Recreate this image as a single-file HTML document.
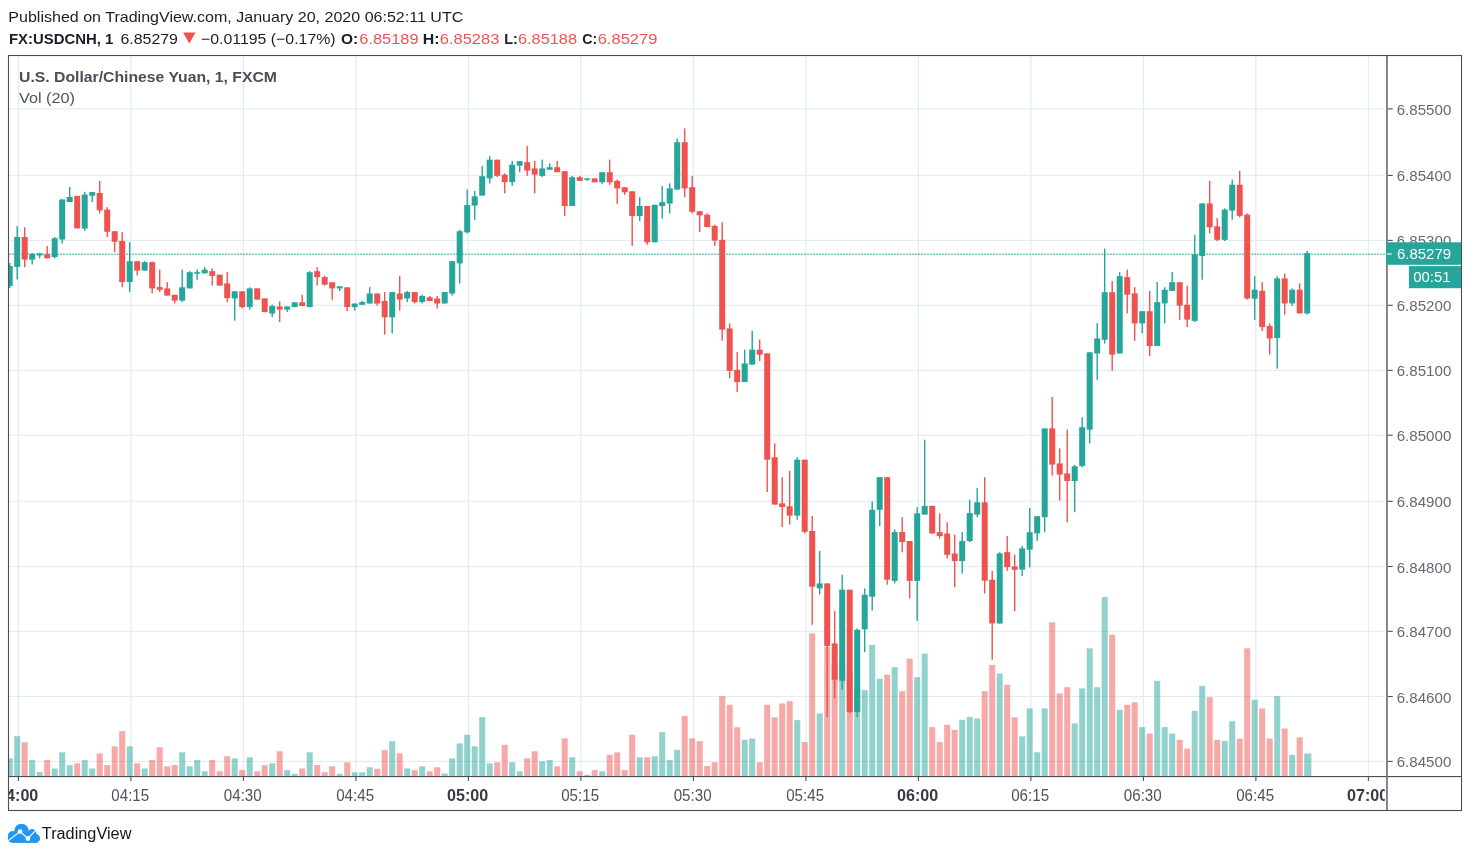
<!DOCTYPE html>
<html><head><meta charset="utf-8"><title>USDCNH chart</title>
<style>html,body{margin:0;padding:0;background:#fff}svg{display:block}text{font-family:"Liberation Sans",sans-serif}</style></head><body>
<svg width="1470" height="857" viewBox="0 0 1470 857">
<rect x="0" y="0" width="1470" height="857" fill="#fff"/>
<defs><clipPath id="pane"><rect x="9" y="56" width="1377" height="720.5"/></clipPath><clipPath id="tax"><rect x="9" y="777" width="1375.8" height="33"/></clipPath></defs>
<g fill="#e1ecf2">
<rect x="17.80" y="56" width="1.2" height="720"/>
<rect x="130.30" y="56" width="1.2" height="720"/>
<rect x="242.80" y="56" width="1.2" height="720"/>
<rect x="355.30" y="56" width="1.2" height="720"/>
<rect x="467.80" y="56" width="1.2" height="720"/>
<rect x="580.30" y="56" width="1.2" height="720"/>
<rect x="692.80" y="56" width="1.2" height="720"/>
<rect x="805.30" y="56" width="1.2" height="720"/>
<rect x="917.80" y="56" width="1.2" height="720"/>
<rect x="1030.30" y="56" width="1.2" height="720"/>
<rect x="1142.80" y="56" width="1.2" height="720"/>
<rect x="1255.30" y="56" width="1.2" height="720"/>
<rect x="1367.80" y="56" width="1.2" height="720"/>
<rect x="9" y="108.35" width="1376" height="1.1"/>
<rect x="9" y="174.85" width="1376" height="1.1"/>
<rect x="9" y="239.85" width="1376" height="1.1"/>
<rect x="9" y="304.75" width="1376" height="1.1"/>
<rect x="9" y="369.85" width="1376" height="1.1"/>
<rect x="9" y="434.65" width="1376" height="1.1"/>
<rect x="9" y="500.75" width="1376" height="1.1"/>
<rect x="9" y="565.95" width="1376" height="1.1"/>
<rect x="9" y="630.75" width="1376" height="1.1"/>
<rect x="9" y="695.95" width="1376" height="1.1"/>
<rect x="9" y="760.85" width="1376" height="1.1"/>
</g>
<g clip-path="url(#pane)" fill-opacity="0.5">
<rect x="6.70" y="758.40" width="6.00" height="17.80" fill="#26a69a"/>
<rect x="14.20" y="736.20" width="6.00" height="40.00" fill="#26a69a"/>
<rect x="21.70" y="742.20" width="6.00" height="34.00" fill="#ef5350"/>
<rect x="29.20" y="760.10" width="6.00" height="16.10" fill="#26a69a"/>
<rect x="36.70" y="772.10" width="6.00" height="4.10" fill="#26a69a"/>
<rect x="44.20" y="760.10" width="6.00" height="16.10" fill="#ef5350"/>
<rect x="51.70" y="768.50" width="6.00" height="7.70" fill="#26a69a"/>
<rect x="59.20" y="752.30" width="6.00" height="23.90" fill="#26a69a"/>
<rect x="66.70" y="765.10" width="6.00" height="11.10" fill="#26a69a"/>
<rect x="74.20" y="763.40" width="6.00" height="12.80" fill="#ef5350"/>
<rect x="81.70" y="760.10" width="6.00" height="16.10" fill="#26a69a"/>
<rect x="89.20" y="768.50" width="6.00" height="7.70" fill="#26a69a"/>
<rect x="96.70" y="753.40" width="6.00" height="22.80" fill="#ef5350"/>
<rect x="104.20" y="765.10" width="6.00" height="11.10" fill="#ef5350"/>
<rect x="111.70" y="746.30" width="6.00" height="29.90" fill="#ef5350"/>
<rect x="119.20" y="731.20" width="6.00" height="45.00" fill="#ef5350"/>
<rect x="126.70" y="746.30" width="6.00" height="29.90" fill="#26a69a"/>
<rect x="134.20" y="763.40" width="6.00" height="12.80" fill="#ef5350"/>
<rect x="141.70" y="768.50" width="6.00" height="7.70" fill="#26a69a"/>
<rect x="149.20" y="760.10" width="6.00" height="16.10" fill="#ef5350"/>
<rect x="156.70" y="747.30" width="6.00" height="28.90" fill="#ef5350"/>
<rect x="164.20" y="766.30" width="6.00" height="9.90" fill="#ef5350"/>
<rect x="171.70" y="765.10" width="6.00" height="11.10" fill="#ef5350"/>
<rect x="179.20" y="752.30" width="6.00" height="23.90" fill="#26a69a"/>
<rect x="186.70" y="766.30" width="6.00" height="9.90" fill="#26a69a"/>
<rect x="194.20" y="760.10" width="6.00" height="16.10" fill="#26a69a"/>
<rect x="201.70" y="771.30" width="6.00" height="4.90" fill="#26a69a"/>
<rect x="209.20" y="760.10" width="6.00" height="16.10" fill="#ef5350"/>
<rect x="216.70" y="771.30" width="6.00" height="4.90" fill="#ef5350"/>
<rect x="224.20" y="756.30" width="6.00" height="19.90" fill="#ef5350"/>
<rect x="231.70" y="758.40" width="6.00" height="17.80" fill="#26a69a"/>
<rect x="239.20" y="770.10" width="6.00" height="6.10" fill="#ef5350"/>
<rect x="246.70" y="757.30" width="6.00" height="18.90" fill="#26a69a"/>
<rect x="254.20" y="771.30" width="6.00" height="4.90" fill="#ef5350"/>
<rect x="261.70" y="765.10" width="6.00" height="11.10" fill="#ef5350"/>
<rect x="269.20" y="763.40" width="6.00" height="12.80" fill="#26a69a"/>
<rect x="276.70" y="751.30" width="6.00" height="24.90" fill="#ef5350"/>
<rect x="284.20" y="770.10" width="6.00" height="6.10" fill="#26a69a"/>
<rect x="291.70" y="773.80" width="6.00" height="2.40" fill="#26a69a"/>
<rect x="299.20" y="768.50" width="6.00" height="7.70" fill="#ef5350"/>
<rect x="306.70" y="752.30" width="6.00" height="23.90" fill="#26a69a"/>
<rect x="314.20" y="765.10" width="6.00" height="11.10" fill="#ef5350"/>
<rect x="321.70" y="772.30" width="6.00" height="3.90" fill="#ef5350"/>
<rect x="329.20" y="766.30" width="6.00" height="9.90" fill="#ef5350"/>
<rect x="336.70" y="773.80" width="6.00" height="2.40" fill="#26a69a"/>
<rect x="344.20" y="762.30" width="6.00" height="13.90" fill="#ef5350"/>
<rect x="351.70" y="772.30" width="6.00" height="3.90" fill="#26a69a"/>
<rect x="359.20" y="772.30" width="6.00" height="3.90" fill="#26a69a"/>
<rect x="366.70" y="767.30" width="6.00" height="8.90" fill="#26a69a"/>
<rect x="374.20" y="768.80" width="6.00" height="7.40" fill="#ef5350"/>
<rect x="381.70" y="750.10" width="6.00" height="26.10" fill="#ef5350"/>
<rect x="389.20" y="741.20" width="6.00" height="35.00" fill="#26a69a"/>
<rect x="396.70" y="753.40" width="6.00" height="22.80" fill="#ef5350"/>
<rect x="404.20" y="768.50" width="6.00" height="7.70" fill="#26a69a"/>
<rect x="411.70" y="770.10" width="6.00" height="6.10" fill="#ef5350"/>
<rect x="419.20" y="766.30" width="6.00" height="9.90" fill="#26a69a"/>
<rect x="426.70" y="771.30" width="6.00" height="4.90" fill="#ef5350"/>
<rect x="434.20" y="767.30" width="6.00" height="8.90" fill="#ef5350"/>
<rect x="441.70" y="773.50" width="6.00" height="2.70" fill="#26a69a"/>
<rect x="449.20" y="758.40" width="6.00" height="17.80" fill="#26a69a"/>
<rect x="456.70" y="743.40" width="6.00" height="32.80" fill="#26a69a"/>
<rect x="464.20" y="734.70" width="6.00" height="41.50" fill="#26a69a"/>
<rect x="471.70" y="746.30" width="6.00" height="29.90" fill="#26a69a"/>
<rect x="479.20" y="717.20" width="6.00" height="59.00" fill="#26a69a"/>
<rect x="486.70" y="763.40" width="6.00" height="12.80" fill="#26a69a"/>
<rect x="494.20" y="762.30" width="6.00" height="13.90" fill="#ef5350"/>
<rect x="501.70" y="744.80" width="6.00" height="31.40" fill="#ef5350"/>
<rect x="509.20" y="762.30" width="6.00" height="13.90" fill="#26a69a"/>
<rect x="516.70" y="771.30" width="6.00" height="4.90" fill="#26a69a"/>
<rect x="524.20" y="758.40" width="6.00" height="17.80" fill="#ef5350"/>
<rect x="531.70" y="751.30" width="6.00" height="24.90" fill="#ef5350"/>
<rect x="539.20" y="761.30" width="6.00" height="14.90" fill="#26a69a"/>
<rect x="546.70" y="760.10" width="6.00" height="16.10" fill="#26a69a"/>
<rect x="554.20" y="766.30" width="6.00" height="9.90" fill="#ef5350"/>
<rect x="561.70" y="738.40" width="6.00" height="37.80" fill="#ef5350"/>
<rect x="569.20" y="757.30" width="6.00" height="18.90" fill="#26a69a"/>
<rect x="576.70" y="771.30" width="6.00" height="4.90" fill="#ef5350"/>
<rect x="584.20" y="774.80" width="6.00" height="1.40" fill="#26a69a"/>
<rect x="591.70" y="770.10" width="6.00" height="6.10" fill="#ef5350"/>
<rect x="599.20" y="771.30" width="6.00" height="4.90" fill="#26a69a"/>
<rect x="606.70" y="754.80" width="6.00" height="21.40" fill="#ef5350"/>
<rect x="614.20" y="752.30" width="6.00" height="23.90" fill="#ef5350"/>
<rect x="621.70" y="770.10" width="6.00" height="6.10" fill="#ef5350"/>
<rect x="629.20" y="734.70" width="6.00" height="41.50" fill="#ef5350"/>
<rect x="636.70" y="757.30" width="6.00" height="18.90" fill="#26a69a"/>
<rect x="644.20" y="757.30" width="6.00" height="18.90" fill="#ef5350"/>
<rect x="651.70" y="756.30" width="6.00" height="19.90" fill="#26a69a"/>
<rect x="659.20" y="732.20" width="6.00" height="44.00" fill="#26a69a"/>
<rect x="666.70" y="760.10" width="6.00" height="16.10" fill="#26a69a"/>
<rect x="674.20" y="749.80" width="6.00" height="26.40" fill="#26a69a"/>
<rect x="681.70" y="715.90" width="6.00" height="60.30" fill="#ef5350"/>
<rect x="689.20" y="738.40" width="6.00" height="37.80" fill="#ef5350"/>
<rect x="696.70" y="741.20" width="6.00" height="35.00" fill="#ef5350"/>
<rect x="704.20" y="766.00" width="6.00" height="10.20" fill="#ef5350"/>
<rect x="711.70" y="762.20" width="6.00" height="14.00" fill="#ef5350"/>
<rect x="719.20" y="696.20" width="6.00" height="80.00" fill="#ef5350"/>
<rect x="726.70" y="704.80" width="6.00" height="71.40" fill="#ef5350"/>
<rect x="734.20" y="727.30" width="6.00" height="48.90" fill="#ef5350"/>
<rect x="741.70" y="739.80" width="6.00" height="36.40" fill="#26a69a"/>
<rect x="749.20" y="738.50" width="6.00" height="37.70" fill="#26a69a"/>
<rect x="756.70" y="762.30" width="6.00" height="13.90" fill="#ef5350"/>
<rect x="764.20" y="704.80" width="6.00" height="71.40" fill="#ef5350"/>
<rect x="771.70" y="717.30" width="6.00" height="58.90" fill="#ef5350"/>
<rect x="779.20" y="703.40" width="6.00" height="72.80" fill="#ef5350"/>
<rect x="786.70" y="701.20" width="6.00" height="75.00" fill="#ef5350"/>
<rect x="794.20" y="720.10" width="6.00" height="56.10" fill="#26a69a"/>
<rect x="801.70" y="742.10" width="6.00" height="34.10" fill="#ef5350"/>
<rect x="809.20" y="633.40" width="6.00" height="142.80" fill="#ef5350"/>
<rect x="816.70" y="713.40" width="6.00" height="62.80" fill="#26a69a"/>
<rect x="824.20" y="646.80" width="6.00" height="129.40" fill="#ef5350"/>
<rect x="831.70" y="665.00" width="6.00" height="111.20" fill="#ef5350"/>
<rect x="839.20" y="660.00" width="6.00" height="116.20" fill="#26a69a"/>
<rect x="846.70" y="672.00" width="6.00" height="104.20" fill="#ef5350"/>
<rect x="854.20" y="690.00" width="6.00" height="86.20" fill="#26a69a"/>
<rect x="861.70" y="690.10" width="6.00" height="86.10" fill="#26a69a"/>
<rect x="869.20" y="645.00" width="6.00" height="131.20" fill="#26a69a"/>
<rect x="876.70" y="678.70" width="6.00" height="97.50" fill="#26a69a"/>
<rect x="884.20" y="674.70" width="6.00" height="101.50" fill="#ef5350"/>
<rect x="891.70" y="667.20" width="6.00" height="109.00" fill="#26a69a"/>
<rect x="899.20" y="691.20" width="6.00" height="85.00" fill="#ef5350"/>
<rect x="906.70" y="658.70" width="6.00" height="117.50" fill="#ef5350"/>
<rect x="914.20" y="677.20" width="6.00" height="99.00" fill="#26a69a"/>
<rect x="921.70" y="653.70" width="6.00" height="122.50" fill="#26a69a"/>
<rect x="929.20" y="727.10" width="6.00" height="49.10" fill="#ef5350"/>
<rect x="936.70" y="742.10" width="6.00" height="34.10" fill="#ef5350"/>
<rect x="944.20" y="724.80" width="6.00" height="51.40" fill="#ef5350"/>
<rect x="951.70" y="729.80" width="6.00" height="46.40" fill="#ef5350"/>
<rect x="959.20" y="719.80" width="6.00" height="56.40" fill="#26a69a"/>
<rect x="966.70" y="717.10" width="6.00" height="59.10" fill="#26a69a"/>
<rect x="974.20" y="718.40" width="6.00" height="57.80" fill="#26a69a"/>
<rect x="981.70" y="691.20" width="6.00" height="85.00" fill="#ef5350"/>
<rect x="989.20" y="665.00" width="6.00" height="111.20" fill="#ef5350"/>
<rect x="996.70" y="673.50" width="6.00" height="102.70" fill="#26a69a"/>
<rect x="1004.20" y="684.70" width="6.00" height="91.50" fill="#ef5350"/>
<rect x="1011.70" y="717.30" width="6.00" height="58.90" fill="#ef5350"/>
<rect x="1019.20" y="736.30" width="6.00" height="39.90" fill="#26a69a"/>
<rect x="1026.70" y="708.40" width="6.00" height="67.80" fill="#26a69a"/>
<rect x="1034.20" y="752.30" width="6.00" height="23.90" fill="#26a69a"/>
<rect x="1041.70" y="708.40" width="6.00" height="67.80" fill="#26a69a"/>
<rect x="1049.20" y="622.30" width="6.00" height="153.90" fill="#ef5350"/>
<rect x="1056.70" y="693.40" width="6.00" height="82.80" fill="#ef5350"/>
<rect x="1064.20" y="687.20" width="6.00" height="89.00" fill="#ef5350"/>
<rect x="1071.70" y="723.40" width="6.00" height="52.80" fill="#26a69a"/>
<rect x="1079.20" y="688.40" width="6.00" height="87.80" fill="#26a69a"/>
<rect x="1086.70" y="648.30" width="6.00" height="127.90" fill="#26a69a"/>
<rect x="1094.20" y="687.20" width="6.00" height="89.00" fill="#26a69a"/>
<rect x="1101.70" y="597.10" width="6.00" height="179.10" fill="#26a69a"/>
<rect x="1109.20" y="634.80" width="6.00" height="141.40" fill="#ef5350"/>
<rect x="1116.70" y="709.80" width="6.00" height="66.40" fill="#26a69a"/>
<rect x="1124.20" y="704.80" width="6.00" height="71.40" fill="#ef5350"/>
<rect x="1131.70" y="702.30" width="6.00" height="73.90" fill="#ef5350"/>
<rect x="1139.20" y="727.10" width="6.00" height="49.10" fill="#26a69a"/>
<rect x="1146.70" y="733.50" width="6.00" height="42.70" fill="#ef5350"/>
<rect x="1154.20" y="680.90" width="6.00" height="95.30" fill="#26a69a"/>
<rect x="1161.70" y="727.10" width="6.00" height="49.10" fill="#26a69a"/>
<rect x="1169.20" y="733.50" width="6.00" height="42.70" fill="#26a69a"/>
<rect x="1176.70" y="739.80" width="6.00" height="36.40" fill="#ef5350"/>
<rect x="1184.20" y="748.50" width="6.00" height="27.70" fill="#ef5350"/>
<rect x="1191.70" y="710.90" width="6.00" height="65.30" fill="#26a69a"/>
<rect x="1199.20" y="685.90" width="6.00" height="90.30" fill="#26a69a"/>
<rect x="1206.70" y="697.20" width="6.00" height="79.00" fill="#ef5350"/>
<rect x="1214.20" y="739.80" width="6.00" height="36.40" fill="#ef5350"/>
<rect x="1221.70" y="741.00" width="6.00" height="35.20" fill="#26a69a"/>
<rect x="1229.20" y="721.30" width="6.00" height="54.90" fill="#26a69a"/>
<rect x="1236.70" y="738.50" width="6.00" height="37.70" fill="#ef5350"/>
<rect x="1244.20" y="648.30" width="6.00" height="127.90" fill="#ef5350"/>
<rect x="1251.70" y="699.70" width="6.00" height="76.50" fill="#26a69a"/>
<rect x="1259.20" y="708.40" width="6.00" height="67.80" fill="#ef5350"/>
<rect x="1266.70" y="738.50" width="6.00" height="37.70" fill="#ef5350"/>
<rect x="1274.20" y="696.20" width="6.00" height="80.00" fill="#26a69a"/>
<rect x="1281.70" y="728.50" width="6.00" height="47.70" fill="#ef5350"/>
<rect x="1289.20" y="754.80" width="6.00" height="21.40" fill="#26a69a"/>
<rect x="1296.70" y="737.30" width="6.00" height="38.90" fill="#ef5350"/>
<rect x="1304.20" y="753.50" width="7.20" height="22.70" fill="#26a69a"/>
</g>
<line x1="9" y1="254.2" x2="1386" y2="254.2" stroke="#26a69a" stroke-width="1.5" stroke-dasharray="2 1" opacity="0.62"/>
<g clip-path="url(#pane)">
<rect x="9.00" y="263.00" width="1.4" height="25.00" fill="#26a69a"/>
<rect x="6.70" y="266.00" width="6" height="20.00" fill="#26a69a"/>
<rect x="16.50" y="226.10" width="1.4" height="53.40" fill="#26a69a"/>
<rect x="14.20" y="237.00" width="6" height="29.90" fill="#26a69a"/>
<rect x="24.00" y="227.20" width="1.4" height="40.00" fill="#ef5350"/>
<rect x="21.70" y="237.00" width="6" height="22.60" fill="#ef5350"/>
<rect x="31.50" y="253.00" width="1.4" height="11.50" fill="#26a69a"/>
<rect x="29.20" y="253.90" width="6" height="5.70" fill="#26a69a"/>
<rect x="39.00" y="253.00" width="1.4" height="5.30" fill="#26a69a"/>
<rect x="36.70" y="253.40" width="6" height="2.10" fill="#26a69a"/>
<rect x="46.50" y="246.00" width="1.4" height="12.30" fill="#ef5350"/>
<rect x="44.20" y="254.20" width="6" height="4.10" fill="#ef5350"/>
<rect x="54.00" y="237.00" width="1.4" height="21.30" fill="#26a69a"/>
<rect x="51.70" y="238.30" width="6" height="18.70" fill="#26a69a"/>
<rect x="61.50" y="199.00" width="1.4" height="44.60" fill="#26a69a"/>
<rect x="59.20" y="199.50" width="6" height="40.00" fill="#26a69a"/>
<rect x="69.00" y="187.00" width="1.4" height="15.00" fill="#26a69a"/>
<rect x="66.70" y="197.00" width="6" height="5.00" fill="#26a69a"/>
<rect x="76.50" y="195.90" width="1.4" height="32.50" fill="#ef5350"/>
<rect x="74.20" y="195.90" width="6" height="32.50" fill="#ef5350"/>
<rect x="84.00" y="191.80" width="1.4" height="39.00" fill="#26a69a"/>
<rect x="81.70" y="194.60" width="6" height="34.00" fill="#26a69a"/>
<rect x="91.50" y="192.00" width="1.4" height="10.00" fill="#26a69a"/>
<rect x="89.20" y="192.10" width="6" height="3.60" fill="#26a69a"/>
<rect x="99.00" y="181.00" width="1.4" height="32.40" fill="#ef5350"/>
<rect x="96.70" y="193.00" width="6" height="17.40" fill="#ef5350"/>
<rect x="106.50" y="207.20" width="1.4" height="29.80" fill="#ef5350"/>
<rect x="104.20" y="209.60" width="6" height="22.20" fill="#ef5350"/>
<rect x="114.00" y="231.00" width="1.4" height="21.00" fill="#ef5350"/>
<rect x="111.70" y="231.20" width="6" height="10.50" fill="#ef5350"/>
<rect x="121.50" y="232.20" width="1.4" height="54.90" fill="#ef5350"/>
<rect x="119.20" y="240.90" width="6" height="41.20" fill="#ef5350"/>
<rect x="129.00" y="242.20" width="1.4" height="49.90" fill="#26a69a"/>
<rect x="126.70" y="261.20" width="6" height="20.90" fill="#26a69a"/>
<rect x="136.50" y="261.20" width="1.4" height="14.20" fill="#ef5350"/>
<rect x="134.20" y="261.20" width="6" height="9.40" fill="#ef5350"/>
<rect x="144.00" y="261.20" width="1.4" height="9.40" fill="#26a69a"/>
<rect x="141.70" y="262.20" width="6" height="8.40" fill="#26a69a"/>
<rect x="151.50" y="261.40" width="1.4" height="32.00" fill="#ef5350"/>
<rect x="149.20" y="262.20" width="6" height="26.20" fill="#ef5350"/>
<rect x="159.00" y="269.60" width="1.4" height="22.50" fill="#ef5350"/>
<rect x="156.70" y="287.10" width="6" height="2.70" fill="#ef5350"/>
<rect x="166.50" y="282.10" width="1.4" height="13.50" fill="#ef5350"/>
<rect x="164.20" y="288.40" width="6" height="7.20" fill="#ef5350"/>
<rect x="174.00" y="294.80" width="1.4" height="8.70" fill="#ef5350"/>
<rect x="171.70" y="294.80" width="6" height="5.80" fill="#ef5350"/>
<rect x="181.50" y="269.60" width="1.4" height="32.50" fill="#26a69a"/>
<rect x="179.20" y="287.30" width="6" height="13.30" fill="#26a69a"/>
<rect x="189.00" y="271.20" width="1.4" height="17.20" fill="#26a69a"/>
<rect x="186.70" y="272.20" width="6" height="16.20" fill="#26a69a"/>
<rect x="196.50" y="269.60" width="1.4" height="10.20" fill="#26a69a"/>
<rect x="194.20" y="272.20" width="6" height="1.50" fill="#26a69a"/>
<rect x="204.00" y="267.20" width="1.4" height="6.20" fill="#26a69a"/>
<rect x="201.70" y="269.70" width="6" height="3.70" fill="#26a69a"/>
<rect x="211.50" y="268.40" width="1.4" height="17.20" fill="#ef5350"/>
<rect x="209.20" y="271.20" width="6" height="4.70" fill="#ef5350"/>
<rect x="219.00" y="274.70" width="1.4" height="10.90" fill="#ef5350"/>
<rect x="216.70" y="274.70" width="6" height="10.90" fill="#ef5350"/>
<rect x="226.50" y="272.20" width="1.4" height="29.90" fill="#ef5350"/>
<rect x="224.20" y="283.40" width="6" height="14.70" fill="#ef5350"/>
<rect x="234.00" y="291.30" width="1.4" height="29.30" fill="#26a69a"/>
<rect x="231.70" y="291.30" width="6" height="7.10" fill="#26a69a"/>
<rect x="241.50" y="291.30" width="1.4" height="17.20" fill="#ef5350"/>
<rect x="239.20" y="291.30" width="6" height="15.80" fill="#ef5350"/>
<rect x="249.00" y="287.30" width="1.4" height="22.30" fill="#26a69a"/>
<rect x="246.70" y="288.40" width="6" height="18.70" fill="#26a69a"/>
<rect x="256.50" y="288.40" width="1.4" height="11.20" fill="#ef5350"/>
<rect x="254.20" y="288.40" width="6" height="11.20" fill="#ef5350"/>
<rect x="264.00" y="298.40" width="1.4" height="13.70" fill="#ef5350"/>
<rect x="261.70" y="298.40" width="6" height="13.70" fill="#ef5350"/>
<rect x="271.50" y="304.60" width="1.4" height="12.50" fill="#26a69a"/>
<rect x="269.20" y="306.00" width="6" height="7.50" fill="#26a69a"/>
<rect x="279.00" y="301.30" width="1.4" height="20.80" fill="#ef5350"/>
<rect x="276.70" y="306.50" width="6" height="3.10" fill="#ef5350"/>
<rect x="286.50" y="306.50" width="1.4" height="5.60" fill="#26a69a"/>
<rect x="284.20" y="306.50" width="6" height="3.10" fill="#26a69a"/>
<rect x="294.00" y="302.30" width="1.4" height="4.80" fill="#26a69a"/>
<rect x="291.70" y="302.30" width="6" height="4.80" fill="#26a69a"/>
<rect x="301.50" y="294.80" width="1.4" height="11.20" fill="#ef5350"/>
<rect x="299.20" y="302.30" width="6" height="3.70" fill="#ef5350"/>
<rect x="309.00" y="271.20" width="1.4" height="35.90" fill="#26a69a"/>
<rect x="306.70" y="272.20" width="6" height="34.90" fill="#26a69a"/>
<rect x="316.50" y="267.20" width="1.4" height="18.40" fill="#ef5350"/>
<rect x="314.20" y="271.20" width="6" height="5.90" fill="#ef5350"/>
<rect x="324.00" y="275.90" width="1.4" height="9.70" fill="#ef5350"/>
<rect x="321.70" y="277.10" width="6" height="7.50" fill="#ef5350"/>
<rect x="331.50" y="282.30" width="1.4" height="17.50" fill="#ef5350"/>
<rect x="329.20" y="282.30" width="6" height="6.10" fill="#ef5350"/>
<rect x="339.00" y="286.30" width="1.4" height="4.60" fill="#26a69a"/>
<rect x="336.70" y="286.30" width="6" height="2.10" fill="#26a69a"/>
<rect x="346.50" y="287.30" width="1.4" height="23.70" fill="#ef5350"/>
<rect x="344.20" y="287.30" width="6" height="19.80" fill="#ef5350"/>
<rect x="354.00" y="303.50" width="1.4" height="7.10" fill="#26a69a"/>
<rect x="351.70" y="303.50" width="6" height="3.60" fill="#26a69a"/>
<rect x="361.50" y="301.00" width="1.4" height="3.80" fill="#26a69a"/>
<rect x="359.20" y="302.10" width="6" height="2.70" fill="#26a69a"/>
<rect x="369.00" y="287.10" width="1.4" height="16.40" fill="#26a69a"/>
<rect x="366.70" y="293.50" width="6" height="10.00" fill="#26a69a"/>
<rect x="376.50" y="293.50" width="1.4" height="12.10" fill="#ef5350"/>
<rect x="374.20" y="293.50" width="6" height="10.00" fill="#ef5350"/>
<rect x="384.00" y="292.10" width="1.4" height="42.60" fill="#ef5350"/>
<rect x="381.70" y="301.00" width="6" height="16.30" fill="#ef5350"/>
<rect x="391.50" y="292.10" width="1.4" height="41.40" fill="#26a69a"/>
<rect x="389.20" y="292.10" width="6" height="25.20" fill="#26a69a"/>
<rect x="399.00" y="275.90" width="1.4" height="34.70" fill="#ef5350"/>
<rect x="396.70" y="293.50" width="6" height="6.10" fill="#ef5350"/>
<rect x="406.50" y="291.00" width="1.4" height="11.10" fill="#26a69a"/>
<rect x="404.20" y="292.10" width="6" height="6.40" fill="#26a69a"/>
<rect x="414.00" y="292.10" width="1.4" height="11.40" fill="#ef5350"/>
<rect x="411.70" y="292.10" width="6" height="10.00" fill="#ef5350"/>
<rect x="421.50" y="294.60" width="1.4" height="8.90" fill="#26a69a"/>
<rect x="419.20" y="296.00" width="6" height="6.10" fill="#26a69a"/>
<rect x="429.00" y="296.00" width="1.4" height="5.00" fill="#ef5350"/>
<rect x="426.70" y="297.30" width="6" height="3.70" fill="#ef5350"/>
<rect x="436.50" y="296.00" width="1.4" height="12.50" fill="#ef5350"/>
<rect x="434.20" y="298.50" width="6" height="5.00" fill="#ef5350"/>
<rect x="444.00" y="292.10" width="1.4" height="11.40" fill="#26a69a"/>
<rect x="441.70" y="292.10" width="6" height="11.40" fill="#26a69a"/>
<rect x="451.50" y="261.20" width="1.4" height="34.40" fill="#26a69a"/>
<rect x="449.20" y="261.20" width="6" height="32.30" fill="#26a69a"/>
<rect x="459.00" y="229.70" width="1.4" height="53.70" fill="#26a69a"/>
<rect x="456.70" y="231.20" width="6" height="32.20" fill="#26a69a"/>
<rect x="466.50" y="189.60" width="1.4" height="43.90" fill="#26a69a"/>
<rect x="464.20" y="205.10" width="6" height="27.20" fill="#26a69a"/>
<rect x="474.00" y="190.90" width="1.4" height="28.90" fill="#26a69a"/>
<rect x="471.70" y="196.30" width="6" height="9.30" fill="#26a69a"/>
<rect x="481.50" y="165.90" width="1.4" height="29.70" fill="#26a69a"/>
<rect x="479.20" y="176.20" width="6" height="19.40" fill="#26a69a"/>
<rect x="489.00" y="155.90" width="1.4" height="27.50" fill="#26a69a"/>
<rect x="486.70" y="159.70" width="6" height="18.70" fill="#26a69a"/>
<rect x="496.50" y="159.70" width="1.4" height="17.40" fill="#ef5350"/>
<rect x="494.20" y="159.70" width="6" height="16.20" fill="#ef5350"/>
<rect x="504.00" y="173.40" width="1.4" height="20.00" fill="#ef5350"/>
<rect x="501.70" y="174.70" width="6" height="7.40" fill="#ef5350"/>
<rect x="511.50" y="160.90" width="1.4" height="25.00" fill="#26a69a"/>
<rect x="509.20" y="164.70" width="6" height="17.40" fill="#26a69a"/>
<rect x="519.00" y="161.20" width="1.4" height="11.00" fill="#26a69a"/>
<rect x="516.70" y="161.20" width="6" height="4.40" fill="#26a69a"/>
<rect x="526.50" y="145.90" width="1.4" height="30.00" fill="#ef5350"/>
<rect x="524.20" y="162.20" width="6" height="8.40" fill="#ef5350"/>
<rect x="534.00" y="160.90" width="1.4" height="32.50" fill="#ef5350"/>
<rect x="531.70" y="168.40" width="6" height="6.20" fill="#ef5350"/>
<rect x="541.50" y="159.60" width="1.4" height="17.60" fill="#26a69a"/>
<rect x="539.20" y="168.40" width="6" height="7.50" fill="#26a69a"/>
<rect x="549.00" y="163.40" width="1.4" height="6.30" fill="#26a69a"/>
<rect x="546.70" y="167.20" width="6" height="2.50" fill="#26a69a"/>
<rect x="556.50" y="160.90" width="1.4" height="11.30" fill="#ef5350"/>
<rect x="554.20" y="167.20" width="6" height="5.00" fill="#ef5350"/>
<rect x="564.00" y="171.20" width="1.4" height="44.80" fill="#ef5350"/>
<rect x="561.70" y="171.20" width="6" height="34.80" fill="#ef5350"/>
<rect x="571.50" y="175.90" width="1.4" height="30.10" fill="#26a69a"/>
<rect x="569.20" y="177.20" width="6" height="28.80" fill="#26a69a"/>
<rect x="579.00" y="175.90" width="1.4" height="5.00" fill="#ef5350"/>
<rect x="576.70" y="177.20" width="6" height="3.70" fill="#ef5350"/>
<rect x="586.50" y="178.40" width="1.4" height="2.50" fill="#26a69a"/>
<rect x="584.20" y="178.40" width="6" height="1.40" fill="#26a69a"/>
<rect x="594.00" y="178.40" width="1.4" height="3.90" fill="#ef5350"/>
<rect x="591.70" y="178.40" width="6" height="3.90" fill="#ef5350"/>
<rect x="601.50" y="172.20" width="1.4" height="11.60" fill="#26a69a"/>
<rect x="599.20" y="172.20" width="6" height="10.10" fill="#26a69a"/>
<rect x="609.00" y="159.60" width="1.4" height="25.20" fill="#ef5350"/>
<rect x="606.70" y="172.20" width="6" height="10.10" fill="#ef5350"/>
<rect x="616.50" y="179.60" width="1.4" height="24.20" fill="#ef5350"/>
<rect x="614.20" y="180.90" width="6" height="7.50" fill="#ef5350"/>
<rect x="624.00" y="187.30" width="1.4" height="7.50" fill="#ef5350"/>
<rect x="621.70" y="187.30" width="6" height="5.00" fill="#ef5350"/>
<rect x="631.50" y="191.30" width="1.4" height="54.70" fill="#ef5350"/>
<rect x="629.20" y="191.30" width="6" height="24.70" fill="#ef5350"/>
<rect x="639.00" y="197.10" width="1.4" height="23.90" fill="#26a69a"/>
<rect x="636.70" y="206.00" width="6" height="10.00" fill="#26a69a"/>
<rect x="646.50" y="206.00" width="1.4" height="38.80" fill="#ef5350"/>
<rect x="644.20" y="206.00" width="6" height="36.30" fill="#ef5350"/>
<rect x="654.00" y="204.80" width="1.4" height="37.50" fill="#26a69a"/>
<rect x="651.70" y="204.80" width="6" height="37.50" fill="#26a69a"/>
<rect x="661.50" y="185.90" width="1.4" height="32.90" fill="#26a69a"/>
<rect x="659.20" y="202.10" width="6" height="3.90" fill="#26a69a"/>
<rect x="669.00" y="183.40" width="1.4" height="30.10" fill="#26a69a"/>
<rect x="666.70" y="188.40" width="6" height="15.10" fill="#26a69a"/>
<rect x="676.50" y="138.40" width="1.4" height="51.20" fill="#26a69a"/>
<rect x="674.20" y="142.20" width="6" height="47.40" fill="#26a69a"/>
<rect x="684.00" y="128.40" width="1.4" height="68.70" fill="#ef5350"/>
<rect x="681.70" y="142.20" width="6" height="46.20" fill="#ef5350"/>
<rect x="691.50" y="176.00" width="1.4" height="37.40" fill="#ef5350"/>
<rect x="689.20" y="187.20" width="6" height="24.60" fill="#ef5350"/>
<rect x="699.00" y="211.20" width="1.4" height="20.90" fill="#ef5350"/>
<rect x="696.70" y="211.20" width="6" height="4.20" fill="#ef5350"/>
<rect x="706.50" y="213.40" width="1.4" height="13.70" fill="#ef5350"/>
<rect x="704.20" y="214.70" width="6" height="12.40" fill="#ef5350"/>
<rect x="714.00" y="224.70" width="1.4" height="21.20" fill="#ef5350"/>
<rect x="711.70" y="225.90" width="6" height="14.70" fill="#ef5350"/>
<rect x="721.50" y="222.20" width="1.4" height="118.40" fill="#ef5350"/>
<rect x="719.20" y="239.80" width="6" height="89.90" fill="#ef5350"/>
<rect x="729.00" y="323.40" width="1.4" height="55.00" fill="#ef5350"/>
<rect x="726.70" y="328.40" width="6" height="42.50" fill="#ef5350"/>
<rect x="736.50" y="352.10" width="1.4" height="40.00" fill="#ef5350"/>
<rect x="734.20" y="369.80" width="6" height="12.30" fill="#ef5350"/>
<rect x="744.00" y="349.60" width="1.4" height="32.50" fill="#26a69a"/>
<rect x="741.70" y="363.40" width="6" height="18.70" fill="#26a69a"/>
<rect x="751.50" y="330.90" width="1.4" height="33.70" fill="#26a69a"/>
<rect x="749.20" y="349.70" width="6" height="14.90" fill="#26a69a"/>
<rect x="759.00" y="339.60" width="1.4" height="21.30" fill="#ef5350"/>
<rect x="756.70" y="349.70" width="6" height="5.00" fill="#ef5350"/>
<rect x="766.50" y="353.40" width="1.4" height="138.70" fill="#ef5350"/>
<rect x="764.20" y="353.40" width="6" height="106.30" fill="#ef5350"/>
<rect x="774.00" y="443.40" width="1.4" height="61.20" fill="#ef5350"/>
<rect x="771.70" y="457.20" width="6" height="47.40" fill="#ef5350"/>
<rect x="781.50" y="477.20" width="1.4" height="49.90" fill="#ef5350"/>
<rect x="779.20" y="503.40" width="6" height="3.70" fill="#ef5350"/>
<rect x="789.00" y="470.90" width="1.4" height="53.70" fill="#ef5350"/>
<rect x="786.70" y="506.30" width="6" height="9.30" fill="#ef5350"/>
<rect x="796.50" y="457.20" width="1.4" height="62.60" fill="#26a69a"/>
<rect x="794.20" y="459.70" width="6" height="55.90" fill="#26a69a"/>
<rect x="804.00" y="459.70" width="1.4" height="73.80" fill="#ef5350"/>
<rect x="801.70" y="459.70" width="6" height="72.10" fill="#ef5350"/>
<rect x="811.50" y="516.00" width="1.4" height="108.80" fill="#ef5350"/>
<rect x="809.20" y="531.00" width="6" height="55.70" fill="#ef5350"/>
<rect x="819.00" y="551.00" width="1.4" height="43.50" fill="#26a69a"/>
<rect x="816.70" y="583.40" width="6" height="5.00" fill="#26a69a"/>
<rect x="826.50" y="583.40" width="1.4" height="133.70" fill="#ef5350"/>
<rect x="824.20" y="583.40" width="6" height="62.60" fill="#ef5350"/>
<rect x="834.00" y="610.90" width="1.4" height="87.40" fill="#ef5350"/>
<rect x="831.70" y="643.40" width="6" height="36.30" fill="#ef5350"/>
<rect x="841.50" y="574.70" width="1.4" height="115.00" fill="#26a69a"/>
<rect x="839.20" y="589.70" width="6" height="91.10" fill="#26a69a"/>
<rect x="849.00" y="589.70" width="1.4" height="123.70" fill="#ef5350"/>
<rect x="846.70" y="589.70" width="6" height="122.40" fill="#ef5350"/>
<rect x="856.50" y="628.40" width="1.4" height="88.70" fill="#26a69a"/>
<rect x="854.20" y="629.80" width="6" height="82.30" fill="#26a69a"/>
<rect x="864.00" y="588.40" width="1.4" height="63.80" fill="#26a69a"/>
<rect x="861.70" y="594.70" width="6" height="34.60" fill="#26a69a"/>
<rect x="871.50" y="501.30" width="1.4" height="109.30" fill="#26a69a"/>
<rect x="869.20" y="509.80" width="6" height="86.90" fill="#26a69a"/>
<rect x="879.00" y="477.20" width="1.4" height="48.80" fill="#26a69a"/>
<rect x="876.70" y="477.20" width="6" height="32.60" fill="#26a69a"/>
<rect x="886.50" y="477.20" width="1.4" height="107.50" fill="#ef5350"/>
<rect x="884.20" y="477.20" width="6" height="102.50" fill="#ef5350"/>
<rect x="894.00" y="529.60" width="1.4" height="53.80" fill="#26a69a"/>
<rect x="891.70" y="532.10" width="6" height="48.80" fill="#26a69a"/>
<rect x="901.50" y="517.10" width="1.4" height="35.20" fill="#ef5350"/>
<rect x="899.20" y="532.10" width="6" height="10.00" fill="#ef5350"/>
<rect x="909.00" y="541.00" width="1.4" height="57.40" fill="#ef5350"/>
<rect x="906.70" y="541.00" width="6" height="39.90" fill="#ef5350"/>
<rect x="916.50" y="507.10" width="1.4" height="113.80" fill="#26a69a"/>
<rect x="914.20" y="513.40" width="6" height="67.50" fill="#26a69a"/>
<rect x="924.00" y="439.70" width="1.4" height="74.90" fill="#26a69a"/>
<rect x="921.70" y="505.90" width="6" height="8.70" fill="#26a69a"/>
<rect x="931.50" y="505.90" width="1.4" height="27.60" fill="#ef5350"/>
<rect x="929.20" y="505.90" width="6" height="27.60" fill="#ef5350"/>
<rect x="939.00" y="513.40" width="1.4" height="25.10" fill="#ef5350"/>
<rect x="936.70" y="532.10" width="6" height="3.90" fill="#ef5350"/>
<rect x="946.50" y="522.10" width="1.4" height="36.40" fill="#ef5350"/>
<rect x="944.20" y="533.50" width="6" height="21.30" fill="#ef5350"/>
<rect x="954.00" y="534.60" width="1.4" height="52.60" fill="#ef5350"/>
<rect x="951.70" y="553.50" width="6" height="7.50" fill="#ef5350"/>
<rect x="961.50" y="532.10" width="1.4" height="41.60" fill="#26a69a"/>
<rect x="959.20" y="541.00" width="6" height="20.00" fill="#26a69a"/>
<rect x="969.00" y="499.80" width="1.4" height="42.30" fill="#26a69a"/>
<rect x="966.70" y="513.10" width="6" height="27.90" fill="#26a69a"/>
<rect x="976.50" y="488.10" width="1.4" height="29.00" fill="#26a69a"/>
<rect x="974.20" y="502.30" width="6" height="12.30" fill="#26a69a"/>
<rect x="984.00" y="477.20" width="1.4" height="116.30" fill="#ef5350"/>
<rect x="981.70" y="502.30" width="6" height="78.40" fill="#ef5350"/>
<rect x="991.50" y="570.80" width="1.4" height="88.90" fill="#ef5350"/>
<rect x="989.20" y="579.70" width="6" height="43.70" fill="#ef5350"/>
<rect x="999.00" y="552.20" width="1.4" height="71.30" fill="#26a69a"/>
<rect x="996.70" y="553.40" width="6" height="70.10" fill="#26a69a"/>
<rect x="1006.50" y="535.90" width="1.4" height="35.00" fill="#ef5350"/>
<rect x="1004.20" y="552.20" width="6" height="14.90" fill="#ef5350"/>
<rect x="1014.00" y="554.60" width="1.4" height="56.40" fill="#ef5350"/>
<rect x="1011.70" y="566.40" width="6" height="3.40" fill="#ef5350"/>
<rect x="1021.50" y="545.90" width="1.4" height="30.00" fill="#26a69a"/>
<rect x="1019.20" y="548.40" width="6" height="21.20" fill="#26a69a"/>
<rect x="1029.00" y="508.00" width="1.4" height="59.30" fill="#26a69a"/>
<rect x="1026.70" y="532.20" width="6" height="17.50" fill="#26a69a"/>
<rect x="1036.50" y="516.20" width="1.4" height="24.70" fill="#26a69a"/>
<rect x="1034.20" y="516.20" width="6" height="17.20" fill="#26a69a"/>
<rect x="1044.00" y="428.40" width="1.4" height="103.80" fill="#26a69a"/>
<rect x="1041.70" y="428.40" width="6" height="88.80" fill="#26a69a"/>
<rect x="1051.50" y="397.00" width="1.4" height="78.60" fill="#ef5350"/>
<rect x="1049.20" y="428.40" width="6" height="36.20" fill="#ef5350"/>
<rect x="1059.00" y="448.40" width="1.4" height="52.20" fill="#ef5350"/>
<rect x="1056.70" y="463.40" width="6" height="11.20" fill="#ef5350"/>
<rect x="1066.50" y="429.60" width="1.4" height="92.60" fill="#ef5350"/>
<rect x="1064.20" y="473.40" width="6" height="7.60" fill="#ef5350"/>
<rect x="1074.00" y="464.80" width="1.4" height="47.40" fill="#26a69a"/>
<rect x="1071.70" y="466.30" width="6" height="14.70" fill="#26a69a"/>
<rect x="1081.50" y="417.20" width="1.4" height="50.10" fill="#26a69a"/>
<rect x="1079.20" y="427.20" width="6" height="38.70" fill="#26a69a"/>
<rect x="1089.00" y="352.30" width="1.4" height="91.10" fill="#26a69a"/>
<rect x="1086.70" y="352.30" width="6" height="77.40" fill="#26a69a"/>
<rect x="1096.50" y="323.10" width="1.4" height="56.70" fill="#26a69a"/>
<rect x="1094.20" y="338.40" width="6" height="15.10" fill="#26a69a"/>
<rect x="1104.00" y="248.50" width="1.4" height="95.00" fill="#26a69a"/>
<rect x="1101.70" y="292.20" width="6" height="47.60" fill="#26a69a"/>
<rect x="1111.50" y="280.90" width="1.4" height="89.80" fill="#ef5350"/>
<rect x="1109.20" y="292.20" width="6" height="62.40" fill="#ef5350"/>
<rect x="1119.00" y="272.20" width="1.4" height="81.30" fill="#26a69a"/>
<rect x="1116.70" y="276.20" width="6" height="77.30" fill="#26a69a"/>
<rect x="1126.50" y="269.70" width="1.4" height="43.70" fill="#ef5350"/>
<rect x="1124.20" y="277.20" width="6" height="17.50" fill="#ef5350"/>
<rect x="1134.00" y="287.20" width="1.4" height="53.70" fill="#ef5350"/>
<rect x="1131.70" y="293.40" width="6" height="30.00" fill="#ef5350"/>
<rect x="1141.50" y="311.20" width="1.4" height="22.20" fill="#26a69a"/>
<rect x="1139.20" y="311.20" width="6" height="12.20" fill="#26a69a"/>
<rect x="1149.00" y="290.90" width="1.4" height="65.10" fill="#ef5350"/>
<rect x="1146.70" y="311.20" width="6" height="34.80" fill="#ef5350"/>
<rect x="1156.50" y="282.00" width="1.4" height="64.00" fill="#26a69a"/>
<rect x="1154.20" y="302.20" width="6" height="43.80" fill="#26a69a"/>
<rect x="1164.00" y="287.20" width="1.4" height="36.20" fill="#26a69a"/>
<rect x="1161.70" y="289.70" width="6" height="13.70" fill="#26a69a"/>
<rect x="1171.50" y="272.00" width="1.4" height="18.90" fill="#26a69a"/>
<rect x="1169.20" y="282.20" width="6" height="8.70" fill="#26a69a"/>
<rect x="1179.00" y="282.20" width="1.4" height="37.60" fill="#ef5350"/>
<rect x="1176.70" y="282.20" width="6" height="23.40" fill="#ef5350"/>
<rect x="1186.50" y="285.90" width="1.4" height="41.20" fill="#ef5350"/>
<rect x="1184.20" y="304.70" width="6" height="14.90" fill="#ef5350"/>
<rect x="1194.00" y="234.60" width="1.4" height="87.50" fill="#26a69a"/>
<rect x="1191.70" y="254.30" width="6" height="66.60" fill="#26a69a"/>
<rect x="1201.50" y="203.40" width="1.4" height="76.30" fill="#26a69a"/>
<rect x="1199.20" y="203.40" width="6" height="52.60" fill="#26a69a"/>
<rect x="1209.00" y="180.90" width="1.4" height="52.50" fill="#ef5350"/>
<rect x="1206.70" y="203.40" width="6" height="23.90" fill="#ef5350"/>
<rect x="1216.50" y="218.10" width="1.4" height="22.90" fill="#ef5350"/>
<rect x="1214.20" y="226.30" width="6" height="13.50" fill="#ef5350"/>
<rect x="1224.00" y="208.40" width="1.4" height="32.60" fill="#26a69a"/>
<rect x="1221.70" y="209.60" width="6" height="30.20" fill="#26a69a"/>
<rect x="1231.50" y="179.50" width="1.4" height="40.20" fill="#26a69a"/>
<rect x="1229.20" y="184.70" width="6" height="25.90" fill="#26a69a"/>
<rect x="1239.00" y="170.80" width="1.4" height="46.40" fill="#ef5350"/>
<rect x="1236.70" y="184.70" width="6" height="31.20" fill="#ef5350"/>
<rect x="1246.50" y="213.40" width="1.4" height="86.20" fill="#ef5350"/>
<rect x="1244.20" y="214.70" width="6" height="83.80" fill="#ef5350"/>
<rect x="1254.00" y="276.20" width="1.4" height="43.60" fill="#26a69a"/>
<rect x="1251.70" y="289.70" width="6" height="9.00" fill="#26a69a"/>
<rect x="1261.50" y="282.20" width="1.4" height="48.70" fill="#ef5350"/>
<rect x="1259.20" y="290.90" width="6" height="36.20" fill="#ef5350"/>
<rect x="1269.00" y="323.40" width="1.4" height="31.20" fill="#ef5350"/>
<rect x="1266.70" y="325.90" width="6" height="12.50" fill="#ef5350"/>
<rect x="1276.50" y="276.20" width="1.4" height="92.30" fill="#26a69a"/>
<rect x="1274.20" y="278.40" width="6" height="59.70" fill="#26a69a"/>
<rect x="1284.00" y="273.40" width="1.4" height="41.20" fill="#ef5350"/>
<rect x="1281.70" y="278.40" width="6" height="25.00" fill="#ef5350"/>
<rect x="1291.50" y="288.40" width="1.4" height="17.50" fill="#26a69a"/>
<rect x="1289.20" y="289.70" width="6" height="13.70" fill="#26a69a"/>
<rect x="1299.00" y="283.40" width="1.4" height="30.00" fill="#ef5350"/>
<rect x="1296.70" y="289.70" width="6" height="23.70" fill="#ef5350"/>
<rect x="1306.50" y="251.00" width="1.4" height="63.60" fill="#26a69a"/>
<rect x="1304.20" y="253.10" width="6" height="60.30" fill="#26a69a"/>
</g>
<rect x="8.5" y="55.5" width="1453" height="755" fill="none" stroke="#4b4e5a" stroke-width="1.1"/>
<rect x="9" y="776" width="1452" height="1.1" fill="#4b4e5a"/>
<rect x="1386.1" y="56" width="1.7" height="754" fill="#6f727d"/>
<g fill="#4b4e5a">
<rect x="1388" y="108.35" width="4.7" height="1.1"/>
<rect x="1388" y="174.85" width="4.7" height="1.1"/>
<rect x="1388" y="239.85" width="4.7" height="1.1"/>
<rect x="1388" y="304.75" width="4.7" height="1.1"/>
<rect x="1388" y="369.85" width="4.7" height="1.1"/>
<rect x="1388" y="434.65" width="4.7" height="1.1"/>
<rect x="1388" y="500.75" width="4.7" height="1.1"/>
<rect x="1388" y="565.95" width="4.7" height="1.1"/>
<rect x="1388" y="630.75" width="4.7" height="1.1"/>
<rect x="1388" y="695.95" width="4.7" height="1.1"/>
<rect x="1388" y="760.85" width="4.7" height="1.1"/>
<rect x="17.85" y="777" width="1.1" height="4"/>
<rect x="130.35" y="777" width="1.1" height="4"/>
<rect x="242.85" y="777" width="1.1" height="4"/>
<rect x="355.35" y="777" width="1.1" height="4"/>
<rect x="467.85" y="777" width="1.1" height="4"/>
<rect x="580.35" y="777" width="1.1" height="4"/>
<rect x="692.85" y="777" width="1.1" height="4"/>
<rect x="805.35" y="777" width="1.1" height="4"/>
<rect x="917.85" y="777" width="1.1" height="4"/>
<rect x="1030.35" y="777" width="1.1" height="4"/>
<rect x="1142.85" y="777" width="1.1" height="4"/>
<rect x="1255.35" y="777" width="1.1" height="4"/>
<rect x="1367.85" y="777" width="1.1" height="4"/>
</g>
<g font-size="15.3" fill="#666975">
<text x="1396.7" y="114.9" textLength="54.6" lengthAdjust="spacingAndGlyphs">6.85500</text>
<text x="1396.7" y="181.4" textLength="54.6" lengthAdjust="spacingAndGlyphs">6.85400</text>
<text x="1396.7" y="246.4" textLength="54.6" lengthAdjust="spacingAndGlyphs">6.85300</text>
<text x="1396.7" y="311.3" textLength="54.6" lengthAdjust="spacingAndGlyphs">6.85200</text>
<text x="1396.7" y="376.4" textLength="54.6" lengthAdjust="spacingAndGlyphs">6.85100</text>
<text x="1396.7" y="441.2" textLength="54.6" lengthAdjust="spacingAndGlyphs">6.85000</text>
<text x="1396.7" y="507.3" textLength="54.6" lengthAdjust="spacingAndGlyphs">6.84900</text>
<text x="1396.7" y="572.5" textLength="54.6" lengthAdjust="spacingAndGlyphs">6.84800</text>
<text x="1396.7" y="637.3" textLength="54.6" lengthAdjust="spacingAndGlyphs">6.84700</text>
<text x="1396.7" y="702.5" textLength="54.6" lengthAdjust="spacingAndGlyphs">6.84600</text>
<text x="1396.7" y="767.4" textLength="54.6" lengthAdjust="spacingAndGlyphs">6.84500</text>
</g>
<rect x="1386.2" y="242.3" width="74.8" height="22.5" fill="#26a69a"/>
<rect x="1387" y="253.4" width="4.8" height="1.1" fill="#fff"/>
<text x="1396.9" y="259.2" font-size="15.3" fill="#fff" textLength="54.2" lengthAdjust="spacingAndGlyphs">6.85279</text>
<rect x="1408.9" y="266.1" width="52.1" height="22.1" fill="#26a69a"/>
<text x="1413.3" y="282.1" font-size="15.3" fill="#fff" textLength="37.2" lengthAdjust="spacingAndGlyphs">00:51</text>
<g clip-path="url(#tax)" font-size="15.6">
<text x="-2.9" y="800.9" textLength="41.2" lengthAdjust="spacingAndGlyphs" fill="#363a45" font-weight="bold">04:00</text>
<text x="111.3" y="800.9" textLength="37.9" lengthAdjust="spacingAndGlyphs" fill="#50535e">04:15</text>
<text x="223.8" y="800.9" textLength="37.9" lengthAdjust="spacingAndGlyphs" fill="#50535e">04:30</text>
<text x="336.2" y="800.9" textLength="37.9" lengthAdjust="spacingAndGlyphs" fill="#50535e">04:45</text>
<text x="447.1" y="800.9" textLength="41.2" lengthAdjust="spacingAndGlyphs" fill="#363a45" font-weight="bold">05:00</text>
<text x="561.2" y="800.9" textLength="37.9" lengthAdjust="spacingAndGlyphs" fill="#50535e">05:15</text>
<text x="673.7" y="800.9" textLength="37.9" lengthAdjust="spacingAndGlyphs" fill="#50535e">05:30</text>
<text x="786.2" y="800.9" textLength="37.9" lengthAdjust="spacingAndGlyphs" fill="#50535e">05:45</text>
<text x="897.1" y="800.9" textLength="41.2" lengthAdjust="spacingAndGlyphs" fill="#363a45" font-weight="bold">06:00</text>
<text x="1011.2" y="800.9" textLength="37.9" lengthAdjust="spacingAndGlyphs" fill="#50535e">06:15</text>
<text x="1123.8" y="800.9" textLength="37.9" lengthAdjust="spacingAndGlyphs" fill="#50535e">06:30</text>
<text x="1236.2" y="800.9" textLength="37.9" lengthAdjust="spacingAndGlyphs" fill="#50535e">06:45</text>
<text x="1347.1" y="800.9" textLength="41.2" lengthAdjust="spacingAndGlyphs" fill="#363a45" font-weight="bold">07:00</text>
</g>
<text x="19" y="81.5" font-size="15.2" font-weight="bold" fill="#4a4e59" textLength="258" lengthAdjust="spacingAndGlyphs">U.S. Dollar/Chinese Yuan, 1, FXCM</text>
<text x="19" y="102.8" font-size="14.6" fill="#50535e" textLength="56" lengthAdjust="spacingAndGlyphs">Vol (20)</text>
<text x="8.3" y="21.5" font-size="15" fill="#1b1e27" textLength="455" lengthAdjust="spacingAndGlyphs">Published on TradingView.com, January 20, 2020 06:52:11 UTC</text>
<g font-size="15" fill="#1b1e27">
<text x="9.0" y="43.5" textLength="104.4" lengthAdjust="spacingAndGlyphs" font-weight="bold">FX:USDCNH, 1</text>
<text x="120.4" y="43.5" textLength="57.6" lengthAdjust="spacingAndGlyphs">6.85279</text>
<path d="M183 32.4 L195.6 32.4 L189.3 43.6 Z" fill="#ef5350"/>
<text x="201.0" y="43.5" textLength="134.6" lengthAdjust="spacingAndGlyphs">−0.01195 (−0.17%)</text>
<text x="341.0" y="43.5" textLength="17.2" lengthAdjust="spacingAndGlyphs" font-weight="bold">O:</text>
<text x="359.3" y="43.5" textLength="59.2" lengthAdjust="spacingAndGlyphs" fill="#ef5350">6.85189</text>
<text x="422.8" y="43.5" textLength="16.8" lengthAdjust="spacingAndGlyphs" font-weight="bold">H:</text>
<text x="439.8" y="43.5" textLength="59.5" lengthAdjust="spacingAndGlyphs" fill="#ef5350">6.85283</text>
<text x="504.2" y="43.5" textLength="13.6" lengthAdjust="spacingAndGlyphs" font-weight="bold">L:</text>
<text x="517.9" y="43.5" textLength="59.2" lengthAdjust="spacingAndGlyphs" fill="#ef5350">6.85188</text>
<text x="582.2" y="43.5" textLength="15.0" lengthAdjust="spacingAndGlyphs" font-weight="bold">C:</text>
<text x="597.7" y="43.5" textLength="59.7" lengthAdjust="spacingAndGlyphs" fill="#ef5350">6.85279</text>
</g>
<g fill="#2196f3">
<rect x="7.85" y="830.95" width="9.8" height="11.95" rx="4.9" ry="4.9"/>
<circle cx="21.5" cy="830.95" r="7.2"/>
<circle cx="32.1" cy="833.15" r="4.2"/>
<circle cx="35.68" cy="838.5" r="4.4"/>
<rect x="12.75" y="833" width="22.95" height="9.9"/>
</g>
<path d="M8.3 840.65 L20.1 831.5 L27.8 838.5 L36.5 829.6" fill="none" stroke="#fff" stroke-width="1.2"/>
<circle cx="20.1" cy="831.5" r="2.3" fill="#fff"/><circle cx="27.8" cy="838.5" r="2.4" fill="#fff"/>
<text x="41.8" y="838.8" font-size="15.8" fill="#131722" textLength="89.6" lengthAdjust="spacingAndGlyphs">TradingView</text>
</svg></body></html>
